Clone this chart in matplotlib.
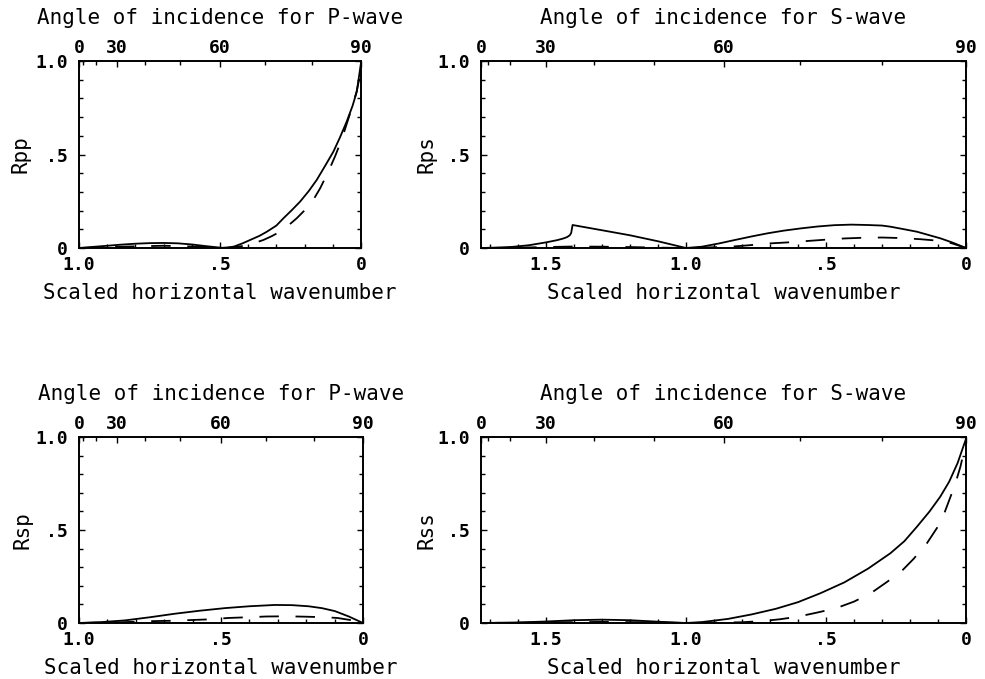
import numpy as np
import matplotlib
matplotlib.use('Agg')
import matplotlib.pyplot as plt

plt.rcParams['font.family'] = ['DejaVu Sans Mono']
plt.rcParams['lines.scale_dashes'] = False

# ---- data (scaled horizontal wavenumber, reflection coefficient) ----
rpp_k_solid = [1.0, 0.95, 0.9, 0.85, 0.8, 0.75, 0.7, 0.65, 0.6, 0.55, 0.5, 0.48, 0.45, 0.42, 0.39,
               0.36, 0.334, 0.30, 0.275, 0.245, 0.216, 0.185, 0.157, 0.127, 0.098, 0.075, 0.051,
               0.03, 0.015, 0.0]
rpp_solid = [0.0, 0.006, 0.012, 0.018, 0.023, 0.026, 0.027, 0.025, 0.019, 0.010, 0.002, 0.0, 0.008,
             0.025, 0.045, 0.065, 0.087, 0.12, 0.159, 0.203, 0.248, 0.305, 0.364, 0.44, 0.515, 0.59,
             0.675, 0.76, 0.836, 0.99]
rpp_k_dash = [1.0, 0.9, 0.8, 0.7, 0.6, 0.5, 0.45, 0.4, 0.346, 0.317, 0.287, 0.258, 0.228, 0.187,
              0.165, 0.145, 0.116, 0.092, 0.075, 0.06, 0.045, 0.03, 0.015, 0.0]
rpp_dash = [0.0, 0.004, 0.009, 0.012, 0.008, 0.001, 0.004, 0.015, 0.043, 0.063, 0.087, 0.12, 0.159,
            0.221, 0.268, 0.319, 0.408, 0.49, 0.555, 0.62, 0.69, 0.76, 0.84, 0.95]

rps_k_solid = [1.732, 1.68, 1.62, 1.56, 1.50, 1.46, 1.44, 1.425, 1.415, 1.41, 1.405, 1.3, 1.2, 1.1,
               1.0, 0.943, 0.88, 0.825, 0.765, 0.707, 0.65, 0.589, 0.53, 0.471, 0.41, 0.352, 0.3,
               0.27, 0.22, 0.175, 0.13, 0.092, 0.05, 0.0]
rps_solid = [0.0, 0.002, 0.006, 0.015, 0.03, 0.042, 0.05, 0.058, 0.068, 0.08, 0.123, 0.095, 0.068,
             0.036, 0.0, 0.007, 0.025, 0.043, 0.062, 0.079, 0.093, 0.105, 0.115, 0.122, 0.125, 0.123,
             0.12, 0.114, 0.10, 0.087, 0.068, 0.052, 0.03, 0.0]
rps_k_dash = [1.732, 1.6, 1.5, 1.4, 1.3, 1.2, 1.1, 1.0, 0.95, 0.85, 0.78, 0.707, 0.636, 0.571, 0.506,
              0.435, 0.364, 0.299, 0.228, 0.163, 0.092, 0.05, 0.02, 0.0]
rps_dash = [0.0, 0.002, 0.005, 0.008, 0.007, 0.005, 0.002, 0.0, 0.002, 0.006, 0.014, 0.024, 0.03,
            0.037, 0.044, 0.051, 0.055, 0.056, 0.053, 0.047, 0.038, 0.025, 0.01, 0.0]

rsp_k_solid = [1.0, 0.92, 0.838, 0.75, 0.662, 0.575, 0.486, 0.4, 0.31, 0.25, 0.192, 0.145, 0.099,
               0.05, 0.0]
rsp_solid = [0.0, 0.005, 0.014, 0.031, 0.05, 0.066, 0.08, 0.09, 0.097, 0.096, 0.09, 0.08, 0.064,
             0.035, 0.0]
rsp_k_dash = [1.0, 0.85, 0.744, 0.674, 0.603, 0.533, 0.475, 0.405, 0.34, 0.27, 0.204, 0.134, 0.09,
              0.04, 0.0]
rsp_dash = [0.0, 0.004, 0.01, 0.012, 0.016, 0.02, 0.027, 0.031, 0.035, 0.036, 0.034, 0.031, 0.027,
            0.015, 0.0]

rss_k_solid = [1.732, 1.6, 1.5, 1.4, 1.3, 1.2, 1.1, 1.0, 0.943, 0.85, 0.766, 0.68, 0.6, 0.52, 0.435,
               0.35, 0.27, 0.22, 0.175, 0.13, 0.092, 0.06, 0.03, 0.0]
rss_solid = [0.0, 0.003, 0.008, 0.015, 0.018, 0.015, 0.007, 0.0, 0.005, 0.022, 0.046, 0.076, 0.112,
             0.16, 0.218, 0.292, 0.375, 0.44, 0.518, 0.6, 0.679, 0.76, 0.86, 0.99]
rss_k_dash = [1.732, 1.5, 1.3, 1.1, 1.0, 0.9, 0.8, 0.73, 0.665, 0.6, 0.535, 0.465, 0.40, 0.34, 0.281,
              0.228, 0.187, 0.139, 0.104, 0.08, 0.06, 0.04, 0.02, 0.0]
rss_dash = [0.0, 0.003, 0.006, 0.003, 0.0, 0.002, 0.004, 0.01, 0.02, 0.034, 0.055, 0.079, 0.115,
            0.16, 0.222, 0.282, 0.345, 0.43, 0.51, 0.58, 0.66, 0.74, 0.84, 0.97]

# ticks and labels
p_xticks = [1.0, 0.5, 0.0]
p_xticklabels = ['1.0', '.5', '0']
s_xticks = [1.5, 1.0, 0.5, 0.0]
s_xticklabels = ['1.5', '1.0', '.5', '0']
angle_ticks = [0, 30, 60, 90]
angle_labels = ['0', '30', '60', '90']
yticks = [0.0, 0.5, 1.0]
yticklabels = ['0', '.5', '1.0']

W, H = 985, 679
fig = plt.figure(figsize=(W / 100, H / 100), dpi=100)


def make_axes(x0, y0, x1, y1):
    return fig.add_axes([x0 / W, 1 - y1 / H, (x1 - x0) / W, (y1 - y0) / H])


def draw_panel(ax, kmax, ks, vs, kd, vd, xticks, xlabels, ylabel, wave, ylab_off):
    ax.plot(ks, vs, color='black', lw=1.3)
    ax.plot(kd, vd, color='black', lw=1.3, dashes=(14, 12))
    ax.set_xlim(kmax, 0)
    ax.set_ylim(0, 1)
    for s in ax.spines.values():
        s.set_linewidth(1.4)
    ax.set_xticks(xticks)
    ax.set_xticklabels(xlabels)
    ax.set_xticks(np.arange(0, kmax, 0.1), minor=True)
    ax.set_yticks(yticks)
    ax.set_yticklabels(yticklabels)
    ax.set_yticks(np.arange(0, 1.01, 0.1), minor=True)
    ax.tick_params(which='both', direction='in', right=True, width=1, labelsize=13)
    ax.tick_params(which='major', length=4)
    ax.tick_params(which='minor', length=3)
    ax.tick_params(axis='x', pad=6)
    ax.tick_params(axis='y', pad=8)
    for lab in ax.get_xticklabels() + ax.get_yticklabels():
        lab.set_fontweight('bold')

    # top axis: angle of incidence
    top = ax.twiny()
    top.set_xlim(ax.get_xlim())
    scale = kmax
    top.set_xticks([scale * np.cos(np.radians(a)) for a in angle_ticks])
    top.set_xticklabels(angle_labels, fontweight='bold')
    top.set_xticks([scale * np.cos(np.radians(a)) for a in range(0, 91, 10)], minor=True)
    top.tick_params(which='both', direction='in', width=1, labelsize=13, pad=3)
    top.tick_params(which='major', length=4)
    top.tick_params(which='minor', length=3)
    for s in top.spines.values():
        s.set_visible(False)

    ax.annotate('Angle of incidence for ' + wave, xy=(0.5, 1), xycoords='axes fraction',
                xytext=(0, 43), textcoords='offset pixels', ha='center', va='center', fontsize=15)
    ax.annotate('Scaled horizontal wavenumber', xy=(0.5, 0), xycoords='axes fraction',
                xytext=(0, -45), textcoords='offset pixels', ha='center', va='center', fontsize=15)
    ax.annotate(ylabel, xy=(0, 0.5), xycoords='axes fraction', xytext=(ylab_off, 0),
                textcoords='offset pixels', ha='center', va='center', rotation=90, fontsize=15)


ax1 = make_axes(79, 61, 361, 248)
draw_panel(ax1, 1.0, rpp_k_solid, rpp_solid, rpp_k_dash, rpp_dash,
           p_xticks, p_xticklabels, 'Rpp', 'P-wave', -59)

ax2 = make_axes(481, 61, 966, 248)
draw_panel(ax2, 1.732, rps_k_solid, rps_solid, rps_k_dash, rps_dash,
           s_xticks, s_xticklabels, 'Rps', 'S-wave', -54)

ax3 = make_axes(79, 437, 363, 623)
draw_panel(ax3, 1.0, rsp_k_solid, rsp_solid, rsp_k_dash, rsp_dash,
           p_xticks, p_xticklabels, 'Rsp', 'P-wave', -57)

ax4 = make_axes(481, 437, 966, 623)
draw_panel(ax4, 1.732, rss_k_solid, rss_solid, rss_k_dash, rss_dash,
           s_xticks, s_xticklabels, 'Rss', 'S-wave', -54)

plt.savefig('out.png', dpi=100)
